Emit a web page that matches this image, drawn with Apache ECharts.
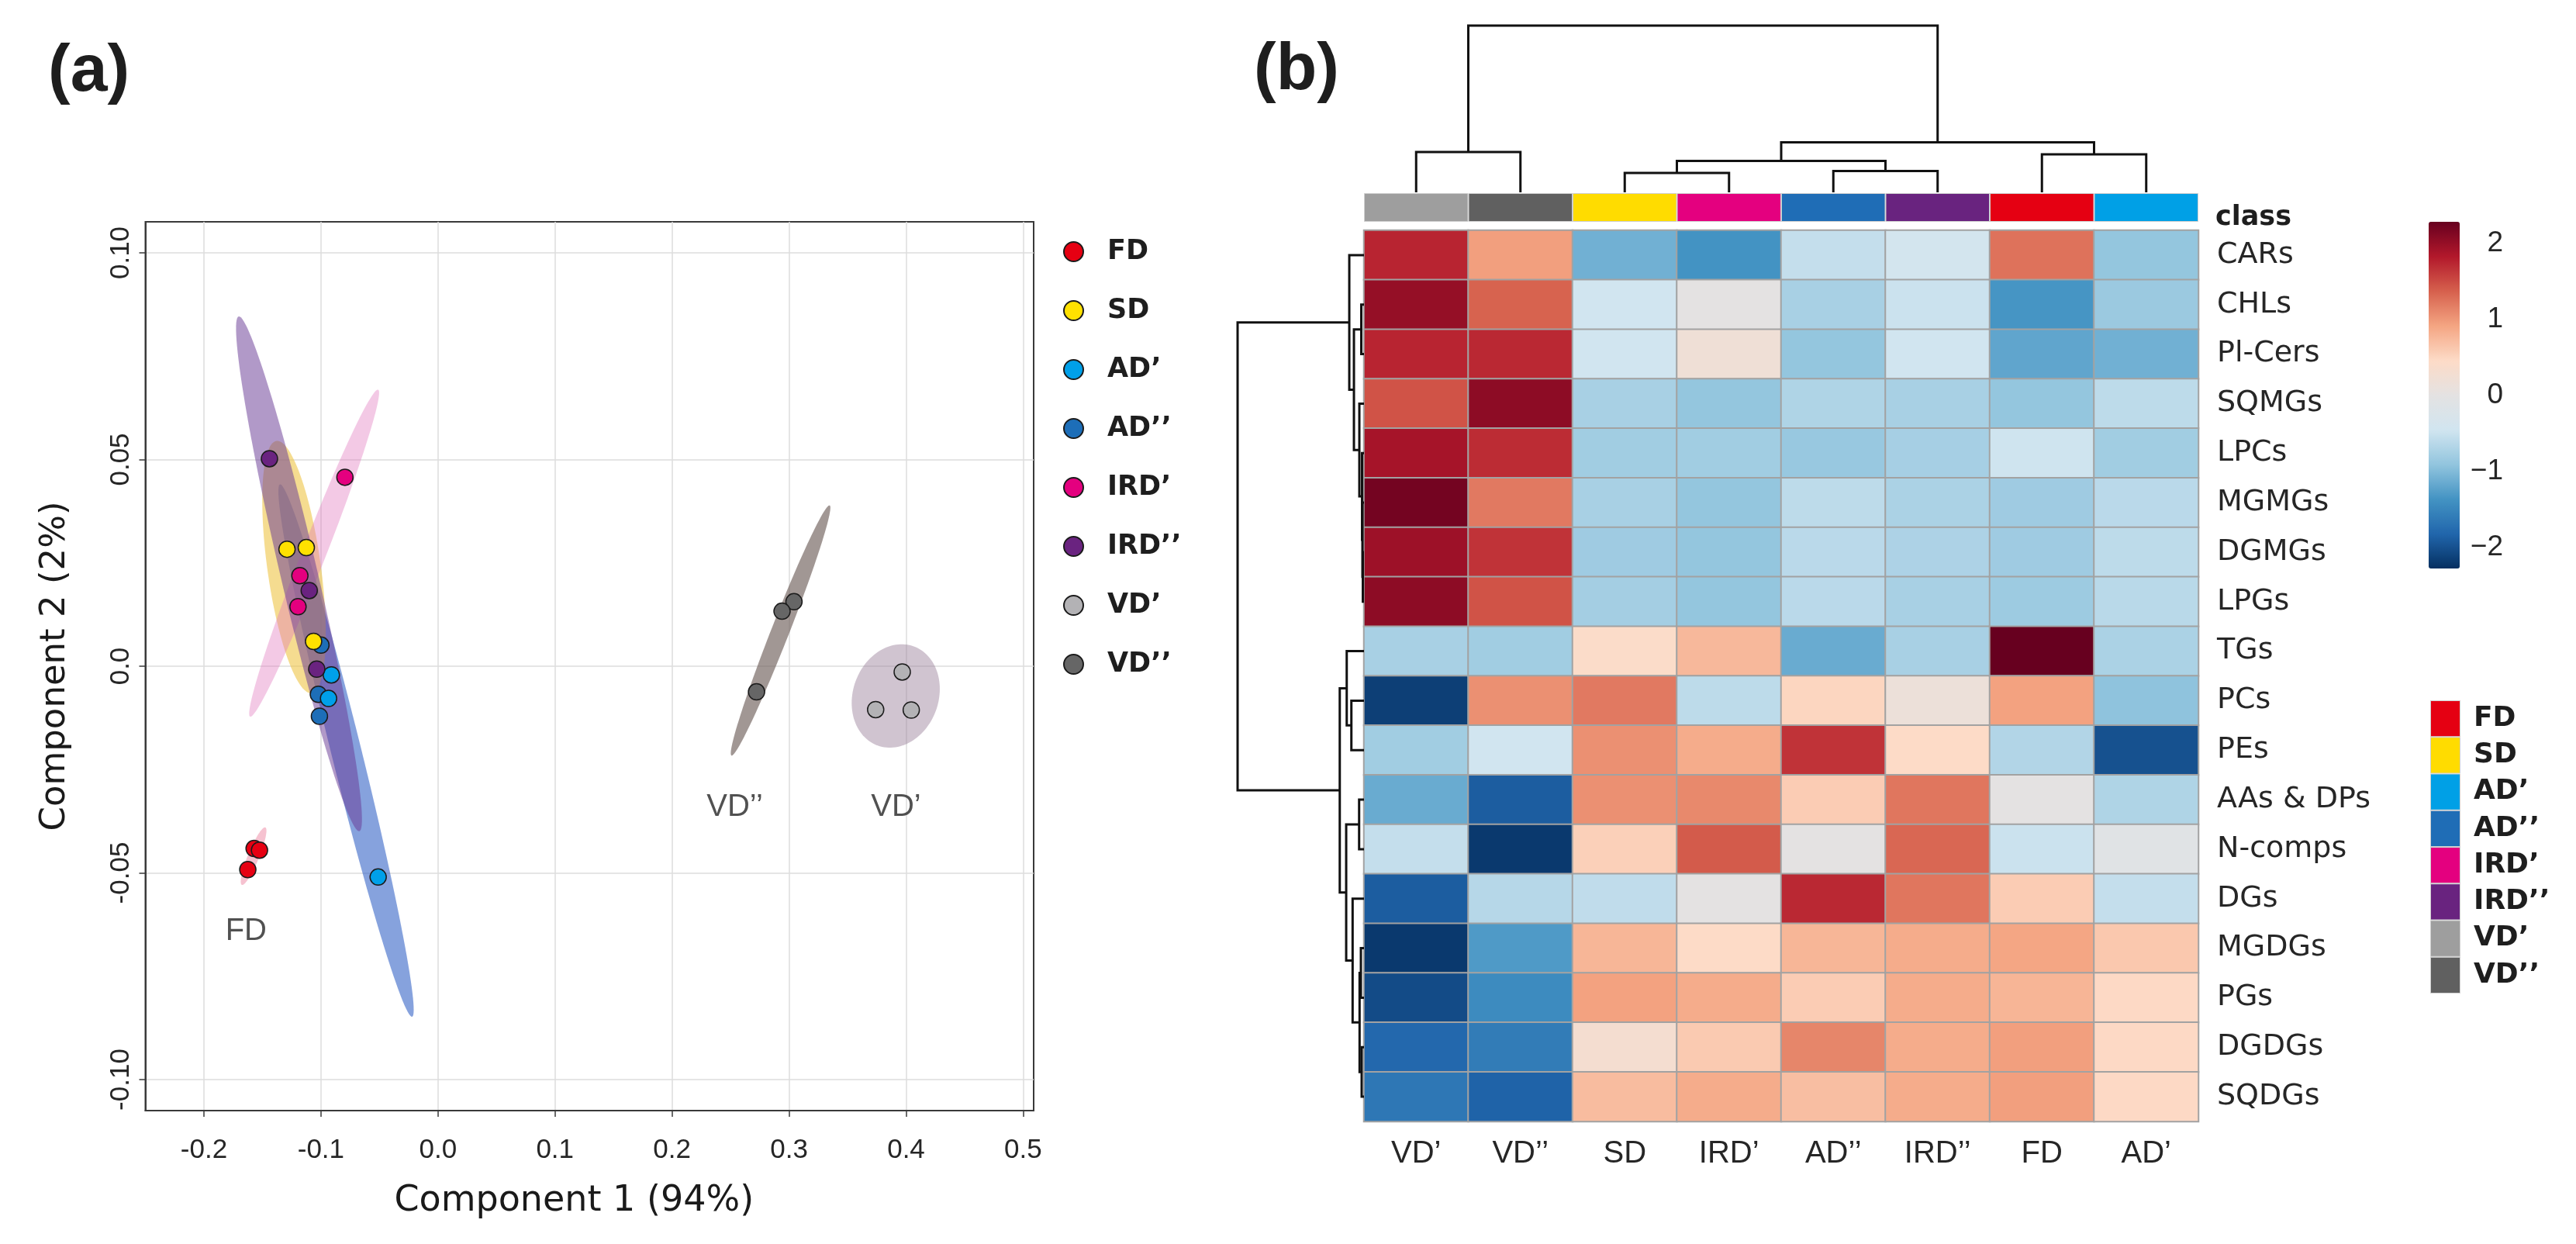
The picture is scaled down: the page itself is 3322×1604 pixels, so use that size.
<!DOCTYPE html>
<html><head><meta charset="utf-8">
<script src="https://cdn.jsdelivr.net/npm/echarts@6/dist/echarts.min.js"></script>
<style>html,body{margin:0;padding:0;background:#fff;}#c{width:3322px;height:1604px;}</style>
</head><body><div id="c"></div>
<script>
// ================= Panel (a): PCA scores =================
const groups = ['FD', 'SD', 'AD’', 'AD’’', 'IRD’', 'IRD’’', 'VD’', 'VD’’'];
const ptsFD    = [[-0.1571, -0.0441], [-0.1525, -0.0445], [-0.1625, -0.0492]];
const ptsSD    = [[-0.1290, 0.0283], [-0.1125, 0.0287], [-0.1063, 0.0060]];
const ptsADp   = [[-0.0911, -0.0021], [-0.0935, -0.0078], [-0.0511, -0.0510]];
const ptsADpp  = [[-0.1000, 0.0051], [-0.1022, -0.0068], [-0.1013, -0.0121]];
const ptsIRDp  = [[-0.0795, 0.0457], [-0.1180, 0.0219], [-0.1196, 0.0144]];
const ptsIRDpp = [[-0.1440, 0.0502], [-0.1100, 0.0183], [-0.1036, -0.0007]];
const ptsVDp   = [[0.3967, -0.0014], [0.3740, -0.0105], [0.4044, -0.0106]];
const ptsVDpp  = [[0.3042, 0.0156], [0.2940, 0.0133], [0.2722, -0.0062]];

// confidence ellipses: major-axis tip 1 (x, y), tip 2 (x, y), minor/major ratio
const ellADp   = [-0.1350, 0.0440, -0.0221, -0.0848, 0.055];
const ellSD    = [-0.1380, 0.0545, -0.1080, -0.0065, 0.21];
const ellIRDp  = [-0.0511, 0.0669, -0.1605, -0.0122, 0.068];
const ellIRDpp = [-0.1703, 0.0846, -0.0672, -0.0399, 0.07];
const ellFD    = [-0.1475, -0.0390, -0.1676, -0.0529, 0.18];
const ellVDp   = [0.4066, 0.0048, 0.3757, -0.0192, 0.81];
const ellVDpp  = [0.3347, 0.0389, 0.2508, -0.0216, 0.067];

// group labels written inside the score plot
const annotations = [['FD', -0.164, -0.0642], ['VD’’', 0.2536, -0.0341], ['VD’', 0.3914, -0.0341]];

const xTicks = [-0.2, -0.1, 0.0, 0.1, 0.2, 0.3, 0.4, 0.5];
const xTickLabels = ['-0.2', '-0.1', '0.0', '0.1', '0.2', '0.3', '0.4', '0.5'];
const yTicks = [-0.10, -0.05, 0.0, 0.05, 0.10];
const yTickLabels = ['-0.10', '-0.05', '0.0', '0.05', '0.10'];

// ================= Panel (b): heatmap =================
const colNames = ['VD’', 'VD’’', 'SD', 'IRD’', 'AD’’', 'IRD’’', 'FD', 'AD’'];
const rowNames = ['CARs', 'CHLs', 'Pl-Cers', 'SQMGs', 'LPCs', 'MGMGs', 'DGMGs', 'LPGs', 'TGs', 'PCs', 'PEs',
                  'AAs & DPs', 'N-comps', 'DGs', 'MGDGs', 'PGs', 'DGDGs', 'SQDGs'];
const zVDp   = [1.75, 2.0, 1.75, 1.45, 1.9, 2.2, 1.95, 2.05, -0.75, -2.15, -0.8, -1.15, -0.55, -1.9, -2.2, -2.05, -1.8, -1.65];
const zVDpp  = [0.95, 1.35, 1.72, 2.05, 1.7, 1.2, 1.65, 1.45, -0.8, 1.05, -0.45, -1.9, -2.2, -0.65, -1.3, -1.45, -1.6, -1.85];
const zSD    = [-1.1, -0.45, -0.45, -0.75, -0.8, -0.75, -0.82, -0.78, 0.42, 1.2, 1.05, 1.05, 0.55, -0.58, 0.77, 0.93, 0.3, 0.72];
const zIRDp  = [-1.37, 0.0, 0.2, -0.9, -0.8, -0.9, -0.9, -0.9, 0.75, -0.6, 0.85, 1.1, 1.4, 0.0, 0.45, 0.85, 0.6, 0.85];
const zADpp  = [-0.55, -0.75, -0.9, -0.7, -0.87, -0.6, -0.62, -0.62, -1.15, 0.5, 1.65, 0.58, 0.0, 1.72, 0.77, 0.58, 1.12, 0.7];
const zIRDpp = [-0.4, -0.5, -0.45, -0.75, -0.77, -0.73, -0.72, -0.75, -0.75, 0.15, 0.45, 1.22, 1.32, 1.22, 0.85, 0.85, 0.85, 0.85];
const zFD    = [1.25, -1.35, -1.2, -0.9, -0.47, -0.82, -0.82, -0.83, 2.3, 0.93, -0.68, 0.0, -0.5, 0.58, 0.9, 0.78, 0.95, 0.95];
const zADp   = [-0.9, -0.85, -1.1, -0.6, -0.8, -0.62, -0.6, -0.63, -0.73, -0.93, -2.0, -0.7, -0.1, -0.55, 0.62, 0.47, 0.47, 0.47];

const colorbarTicks = [-2, -1, 0, 1, 2];

// dendrogram merges (R hclust style: negative = leaf index+1, positive = earlier merge row), height
const colMerges = [[-3, -4, 25], [-5, -6, 27.5], [1, 2, 40.5], [-7, -8, 49], [-1, -2, 52], [3, 4, 64.5], [5, 6, 215]];
const rowMerges = [[-7, -8, 1.5], [-6, 1, 2], [-5, 2, 2.5], [-2, -3, 3.5], [-4, 3, 6], [4, 5, 13], [-1, 6, 19],
                   [-10, -11, 16.3], [-9, 8, 22.3], [-12, -13, 6.3], [-15, -16, 4], [-17, -18, 3], [11, 12, 5.7],
                   [-14, 13, 14.7], [10, 14, 23], [9, 15, 31.3], [7, 16, 163.3]];

// ================= styles =================
const groupColor = {'FD': '#e60012', 'SD': '#ffe100', 'AD’': '#00a0e9', 'AD’’': '#1d6eb8',
                    'IRD’': '#e4007f', 'IRD’’': '#6a2380', 'VD’': '#b3b2b5', 'VD’’': '#666666'};
const classColor = {'FD': '#e50012', 'SD': '#ffdc00', 'AD’': '#00a0e6', 'AD’’': '#1f6db6',
                    'IRD’': '#e4007f', 'IRD’’': '#69237f', 'VD’': '#9e9e9e', 'VD’’': '#606060'};
const ellipseList = [ellADp, ellSD, ellIRDp, ellIRDpp, ellFD, ellVDp, ellVDpp];
const ellipseFill = ['rgba(60,105,200,0.62)', 'rgba(238,196,70,0.6)', 'rgba(225,120,190,0.40)',
                     'rgba(105,60,150,0.52)', 'rgba(230,80,120,0.35)', 'rgba(150,125,150,0.45)', 'rgba(110,95,90,0.65)'];
const palette = ['#053061', '#2166ac', '#4393c3', '#92c5de', '#d1e5f0', '#e4e2e2', '#fddbc7', '#f4a582', '#d6604d', '#b2182b', '#67001f'];
const SANS = '"Liberation Sans", Arial, Helvetica, sans-serif';
const WIDE = '"DejaVu Sans", Verdana, sans-serif';

// ================= build =================
const groupPts = {'FD': ptsFD, 'SD': ptsSD, 'AD’': ptsADp, 'AD’’': ptsADpp, 'IRD’': ptsIRDp, 'IRD’’': ptsIRDpp, 'VD’': ptsVDp, 'VD’’': ptsVDpp};
const drawOrder = ['FD', 'AD’’', 'SD', 'AD’', 'IRD’', 'IRD’’', 'VD’', 'VD’’'];
const heatCols = [zVDp, zVDpp, zSD, zIRDp, zADpp, zIRDpp, zFD, zADp];
const heatData = [];
heatCols.forEach((col, i) => col.forEach((v, j) => heatData.push([i, j, v])));

function dendroSegments(merges) {
  const pos = [], hgt = [], segs = [];
  const P = c => c < 0 ? (-c - 1) + 0.5 : pos[c - 1];
  const H = c => c < 0 ? 0 : hgt[c - 1];
  merges.forEach(([a, b, h], i) => {
    segs.push([P(a), H(a), P(b), H(b), h]);
    pos[i] = (P(a) + P(b)) / 2; hgt[i] = h;
  });
  return segs;
}
const tickFmt = (ticks, labels) => v => {
  const k = ticks.findIndex(t => Math.abs(t - v) < 1e-9);
  return k >= 0 ? labels[k] : '';
};

const hiddenVal = (gi, extra) => Object.assign({gridIndex: gi, type: 'value', show: false, splitLine: {show: false}}, extra || {});

const series = [];
series.push({
  type: 'custom', xAxisIndex: 0, yAxisIndex: 0, data: ellipseList, silent: true, z: 1,
  renderItem: (params, api) => {
    const p1 = api.coord([api.value(0), api.value(1)]);
    const p2 = api.coord([api.value(2), api.value(3)]);
    const r = api.value(4);
    const cx = (p1[0] + p2[0]) / 2, cy = (p1[1] + p2[1]) / 2;
    const dx = (p2[0] - p1[0]) / 2, dy = (p2[1] - p1[1]) / 2;
    const a = Math.hypot(dx, dy), ux = dx / a, uy = dy / a, b = a * r;
    const pts = [];
    for (let k = 0; k < 120; k++) {
      const t = k / 120 * 2 * Math.PI, c = Math.cos(t), s = Math.sin(t);
      pts.push([cx + a * c * ux - b * s * uy, cy + a * c * uy + b * s * ux]);
    }
    return {type: 'polygon', shape: {points: pts}, style: {fill: ellipseFill[params.dataIndex]}};
  }
});
drawOrder.forEach(g => series.push({
  type: 'scatter', name: g, xAxisIndex: 0, yAxisIndex: 0, data: groupPts[g], symbol: 'circle', symbolSize: 21, z: 3,
  itemStyle: {color: groupColor[g], borderColor: '#1b1b1b', borderWidth: 1.5, opacity: 1}
}));
series.push({
  type: 'scatter', name: 'annot', xAxisIndex: 0, yAxisIndex: 0, symbolSize: 1, silent: true, z: 4,
  data: annotations.map(a => ({name: a[0], value: [a[1], a[2]]})),
  itemStyle: {color: 'rgba(0,0,0,0)'},
  label: {show: true, position: 'inside', formatter: '{b}', fontSize: 40, color: '#262626', fontFamily: SANS}
});
const heatIndex = series.length;
series.push({
  type: 'heatmap', xAxisIndex: 1, yAxisIndex: 1, data: heatData,
  itemStyle: {borderColor: '#a2a2a2', borderWidth: 2}, emphasis: {disabled: true}
});
series.push({
  type: 'bar', xAxisIndex: 2, yAxisIndex: 2, barWidth: '100%', silent: true,
  data: colNames.map(n => ({value: 1, itemStyle: {color: classColor[n]}})),
  itemStyle: {borderColor: '#cfcfcf', borderWidth: 1}
});
series.push({
  type: 'custom', xAxisIndex: 3, yAxisIndex: 3, data: dendroSegments(colMerges), silent: true,
  renderItem: (params, api) => {
    const pa = api.value(0), ha = api.value(1), pb = api.value(2), hb = api.value(3), h = api.value(4);
    const pts = [[pa, ha], [pa, h], [pb, h], [pb, hb]].map(p => api.coord(p));
    return {type: 'polyline', shape: {points: pts}, style: {stroke: '#111', lineWidth: 3, fill: null}};
  }
});
series.push({
  type: 'custom', xAxisIndex: 4, yAxisIndex: 4, data: dendroSegments(rowMerges), silent: true,
  renderItem: (params, api) => {
    const pa = api.value(0), ha = api.value(1), pb = api.value(2), hb = api.value(3), h = api.value(4);
    const pts = [[ha, pa], [h, pa], [h, pb], [hb, pb]].map(p => api.coord(p));
    return {type: 'polyline', shape: {points: pts}, style: {stroke: '#111', lineWidth: 3, fill: null}};
  }
});
series.push({
  type: 'bar', xAxisIndex: 6, yAxisIndex: 6, barWidth: '100%', silent: true,
  data: groups.map(g => ({value: 1, itemStyle: {color: classColor[g]}})),
  itemStyle: {borderColor: '#d0d0d0', borderWidth: 1}
});

const option = {
  animation: false,
  backgroundColor: '#ffffff',
  grid: [
    {left: 187.5, top: 286, width: 1145.5, height: 1146, show: true, borderColor: '#3a3a3a', borderWidth: 2, backgroundColor: 'transparent'},
    {left: 1759, top: 297, width: 1076, height: 1149},
    {left: 1759, top: 249, width: 1076, height: 37},
    {left: 1759, top: 33, width: 1076, height: 215},
    {left: 1596, top: 297, width: 163, height: 1149},
    {left: 3132, top: 286, width: 40, height: 447},
    {left: 3134, top: 903, width: 39, height: 378}
  ],
  xAxis: [
    {gridIndex: 0, type: 'value', min: -0.25, max: 0.509, splitNumber: 8,
     axisLine: {show: true, onZero: false, lineStyle: {color: '#3a3a3a', width: 2}},
     axisTick: {show: true, length: 8, customValues: xTicks, lineStyle: {color: '#3a3a3a', width: 1.5}},
     axisLabel: {customValues: xTicks, formatter: tickFmt(xTicks, xTickLabels), margin: 34, fontSize: 35, color: '#262626', fontFamily: SANS},
     splitLine: {show: true, lineStyle: {color: '#dcdcdc', width: 1.5}},
     name: 'Component 1 (94%)', nameLocation: 'middle', nameGap: 94,
     nameTextStyle: {fontSize: 46, color: '#1a1a1a', fontFamily: WIDE, padding: [0, 40, 0, 0]}},
    {gridIndex: 1, type: 'category', data: colNames, axisLine: {show: false}, axisTick: {show: false},
     axisLabel: {margin: 22, fontSize: 40, color: '#262626', fontFamily: SANS}, splitLine: {show: false}},
    {gridIndex: 2, type: 'category', data: colNames, show: false},
    hiddenVal(3, {min: 0, max: 8}),
    hiddenVal(4, {min: 0, max: 163.3, inverse: true}),
    hiddenVal(5, {min: 0, max: 1}),
    hiddenVal(6, {min: 0, max: 1})
  ],
  yAxis: [
    {gridIndex: 0, type: 'value', min: -0.1075, max: 0.1075, splitNumber: 4,
     axisLine: {show: true, onZero: false, lineStyle: {color: '#3a3a3a', width: 2}},
     axisTick: {show: true, length: 8, customValues: yTicks, lineStyle: {color: '#3a3a3a', width: 1.5}},
     axisLabel: {customValues: yTicks, formatter: tickFmt(yTicks, yTickLabels), rotate: 90, margin: 14, fontSize: 35, color: '#262626', fontFamily: SANS},
     splitLine: {show: true, lineStyle: {color: '#dcdcdc', width: 1.5}},
     name: 'Component 2 (2%)', nameLocation: 'middle', nameGap: 94, nameRotate: 90,
     nameTextStyle: {fontSize: 45, color: '#1a1a1a', fontFamily: WIDE}},
    {gridIndex: 1, type: 'category', data: rowNames, inverse: true, position: 'right',
     axisLine: {show: false}, axisTick: {show: false}, splitLine: {show: false},
     axisLabel: {margin: 24, fontSize: 38, color: '#262626', fontFamily: WIDE}},
    hiddenVal(2, {min: 0, max: 1}),
    hiddenVal(3, {min: 0, max: 215}),
    hiddenVal(4, {min: 0, max: 18, inverse: true}),
    {gridIndex: 5, type: 'value', min: -2.28, max: 2.28, position: 'right',
     axisLine: {show: false}, axisTick: {show: false}, splitLine: {show: false},
     axisLabel: {customValues: colorbarTicks, align: 'right', margin: 56, fontSize: 37, color: '#262626', fontFamily: SANS,
                 formatter: v => (v < 0 ? '\u2212' + (-v) : String(v))}},
    {gridIndex: 6, type: 'category', data: groups, inverse: true, position: 'right',
     axisLine: {show: false}, axisTick: {show: false}, splitLine: {show: false},
     axisLabel: {margin: 17, fontSize: 36, fontWeight: 'bold', color: '#1e1e1e', fontFamily: WIDE}}
  ],
  visualMap: {
    type: 'continuous', seriesIndex: heatIndex, min: -2.28, max: 2.28, calculable: false, hoverLink: false,
    inRange: {color: palette}, left: 3132, top: 286, itemWidth: 40, itemHeight: 447, padding: 0, text: null,
    textStyle: {color: 'transparent'}
  },
  legend: {
    orient: 'vertical', left: 1366, top: 302, itemWidth: 25, itemHeight: 25, itemGap: 41, icon: 'circle',
    selectedMode: false, data: groups,
    textStyle: {fontFamily: WIDE, fontWeight: 'bold', fontSize: 35, color: '#1e1e1e', lineHeight: 25, padding: [0, 0, 0, 26]}
  },
  graphic: [
    {type: 'text', left: 62, top: 50, style: {text: '(a)', font: 'bold 86px "Liberation Sans", Arial, sans-serif', fill: '#1e1e1e'}},
    {type: 'text', left: 1617, top: 48, style: {text: '(b)', font: 'bold 86px "Liberation Sans", Arial, sans-serif', fill: '#1e1e1e'}},
    {type: 'text', x: 2857, y: 281, style: {text: 'class', font: 'bold 35px "DejaVu Sans", sans-serif', fill: '#1e1e1e', verticalAlign: 'middle'}}
  ],
  series: series
};
const chart = echarts.init(document.getElementById('c'), null, {renderer: 'canvas'});
chart.setOption(option);
</script></body></html>
